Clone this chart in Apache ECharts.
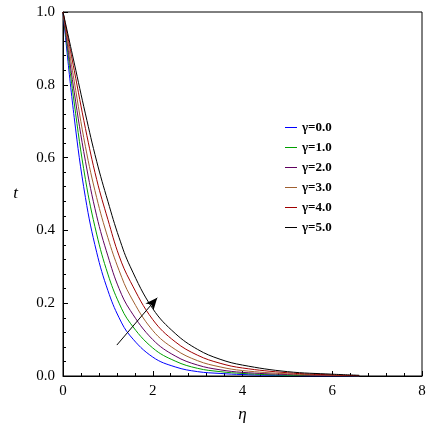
<!DOCTYPE html><html><head><meta charset="utf-8"><script src="https://cdn.jsdelivr.net/npm/echarts@6/dist/echarts.min.js"></script></head><body style="margin:0;background:#fff"><div id="c" style="width:431px;height:431px"></div><script>
const eta=[0,0.25,0.5,0.75,1,1.25,1.5,2,2.5,3,3.5,4,5,6,6.6];
const names=['γ=0.0','γ=1.0','γ=2.0','γ=3.0','γ=4.0','γ=5.0'];
const colors=['#0000ff','#00a000','#600060','#a06030','#a00000','#000000'];
const g0=[1,0.71,0.49,0.34,0.235,0.16,0.11,0.052,0.025,0.012,0.007,0.004,0.001,0,0];
const g1=[1,0.75,0.54,0.39,0.28,0.20,0.145,0.077,0.041,0.021,0.012,0.007,0.002,0.001,0];
const g2=[1,0.78,0.59,0.44,0.33,0.24,0.18,0.10,0.055,0.030,0.017,0.010,0.004,0.001,0];
const g3=[1,0.81,0.63,0.49,0.38,0.29,0.22,0.125,0.073,0.042,0.025,0.015,0.006,0.002,0.001];
const g4=[1,0.84,0.68,0.54,0.43,0.33,0.26,0.155,0.094,0.057,0.035,0.022,0.009,0.003,0.001];
const g5=[1,0.86,0.72,0.59,0.48,0.38,0.30,0.185,0.117,0.073,0.046,0.030,0.012,0.005,0.002];
const arrowFrom=[1.2,0.085], arrowTo=[2.1,0.215];
const all=[g0,g1,g2,g3,g4,g5];
const font='Times New Roman, Liberation Serif, serif';
const series=all.map((d,i)=>({name:names[i],type:'line',smooth:0.4,showSymbol:false,data:eta.map((x,j)=>[x,d[j]]),lineStyle:{color:colors[i],width:1},itemStyle:{color:colors[i]}}));
series[0].markLine={silent:true,symbol:['none','arrow'],symbolSize:[8,12],label:{show:false},lineStyle:{color:'#000',width:1,type:'solid'},data:[[{coord:arrowFrom},{coord:arrowTo}]]};
const ax={axisLine:{lineStyle:{color:'#000'}},axisTick:{inside:true,length:5,lineStyle:{color:'#000'}},minorTick:{show:true,splitNumber:5,length:3,lineStyle:{color:'#000'}},splitLine:{show:false},axisLabel:{color:'#000',fontFamily:font,fontSize:15}};
echarts.init(document.getElementById('c')).setOption({animation:false,
grid:{left:63,right:9,top:12,bottom:55,show:true,borderColor:'#000',borderWidth:1},
legend:{orient:'vertical',left:280,top:116,itemGap:7,itemWidth:12,itemHeight:1,icon:'rect',textStyle:{fontFamily:font,fontWeight:'bold',fontSize:13,color:'#000'},data:names},
xAxis:Object.assign({type:'value',min:0,max:8,interval:2,name:'η',nameLocation:'middle',nameGap:30,nameTextStyle:{fontFamily:font,fontStyle:'italic',fontSize:17,color:'#000'}},ax),
yAxis:Object.assign({type:'value',min:0,max:1,interval:0.2,name:'t',nameLocation:'middle',nameGap:45,nameRotate:0,nameTextStyle:{fontFamily:font,fontStyle:'italic',fontSize:17,color:'#000'}},ax,{axisLabel:{color:'#000',fontFamily:font,fontSize:15,formatter:v=>v.toFixed(1)}}),
series});
</script></body></html>
